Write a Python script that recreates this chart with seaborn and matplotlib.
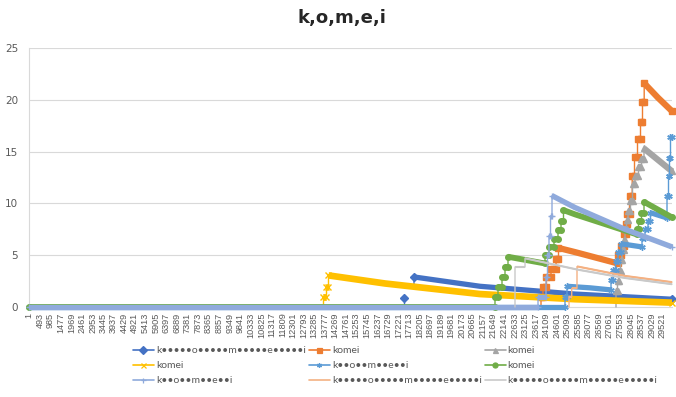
import numpy as np
import pandas as pd
import seaborn as sns
import matplotlib.pyplot as plt
from matplotlib.lines import Line2D

# ---------------------------------------------------------------- data
N_CATEGORIES = 29978
TICK_FIRST, TICK_LAST, TICK_STEP = 1, 29521, 492
Y_TICKS = [0, 5, 10, 15, 20, 25]
TITLE = "k,o,m,e,i"

LONG_NAME = "k•••••o•••••m•••••e•••••i"
SHORT_NAME = "k••o••m••e••i"
series_names = [LONG_NAME, "komei", "komei", "komei", SHORT_NAME,
                "komei", SHORT_NAME, LONG_NAME, LONG_NAME]

# Each series is a path of (category, value) vertices.  Equal categories on
# consecutive vertices are jumps; NaN values break the line.
s1_x = [17478, 17478, 17478, 17944, 17944, 21023, 25454, 29978]
s1_y = [0, 0.9, np.nan, 1.9, 2.9, 2.0, 1.25, 0.75]

s2_x = [23868, 23868, 23961, 23961, 24124, 24124, 24334, 24334, 24567,
        24567, 24684, 24684, 25454, 27459, 27459, 27599, 27599, 27739, 27739,
        27832, 27832, 27902, 27902, 27996, 27996, 28122, 28122, 28229, 28229,
        28369, 28369, 28509, 28509, 28602, 28602, 28681, 28681, 29325, 29978]
s2_y = [0, 1.0, 1.0, 1.95, 1.95, 2.85, 2.85, 3.7, 3.7,
        4.66, 4.66, 5.7, 5.3, 4.2, 5.05, 5.05, 5.9, 5.9, 7.0,
        7.0, 8.0, 8.0, 9.0, 9.0, 10.7, 10.7, 12.6, 12.6, 14.5,
        14.5, 16.2, 16.2, 17.9, 17.9, 19.8, 19.8, 21.6, 20.2, 18.9]

s3_x = [27366, 27366, 27436, 27436, 27506, 27506, 27576, 27576, 27646, 27646,
        27716, 27716, 27786, 27786, 27856, 27856, 27926, 27926, 28042, 28042,
        28136, 28136, 28252, 28252, 28415, 28415, 28555, 28555, 28672, 28672,
        29325, 29978]
s3_y = [0, 1.5, 1.5, 2.5, 2.5, 3.5, 3.5, 4.5, 4.5, 5.5,
        5.5, 6.5, 6.5, 7.5, 7.5, 8.4, 8.4, 9.3, 9.3, 10.25,
        10.25, 11.85, 11.85, 12.6, 12.6, 13.5, 13.5, 14.3, 14.3, 15.3,
        14.2, 13.1]

s4_x = [13723, 13723, 13863, 13863, 13956, 13956, 16592, 21023, 25454, 29978]
s4_y = [0, 0.95, 0.95, 1.95, 1.95, 3.05, 2.27, 1.25, 0.75, 0.42]

s5_x = [1, 24987, 24987, 25080, 25080, 26153, 27133, 27133, 27226, 27226,
        27343, 27343, 27459, 27459, 27599, 27599, 28579, 28579, 28719, 28719,
        28859, 28859, 28975, 28975, 29745, 29745, 29815, 29815, 29861, 29861,
        29908, 29908, 29978]
s5_y = [0, 0, 1.0, 1.0, 2.0, 1.85, 1.65, 2.6, 2.6, 3.55,
        3.55, 4.4, 4.4, 5.3, 5.3, 6.1, 5.8, 6.7, 6.7, 7.5,
        7.5, 8.3, 8.3, 9.1, 8.6, 10.7, 10.7, 12.6, 12.6, 14.4,
        14.4, 16.4, 16.4]

s6_x = [1, 21722, 21722, 21862, 21862, 22049, 22049, 22189, 22189, 22329,
        22329, 24054, 24054, 24241, 24241, 24474, 24474, 24661, 24661, 24801,
        24801, 24917, 24917, 25454, 28346, 28346, 28416, 28416, 28555, 28555,
        28672, 28672, 29325, 29978]
s6_y = [0, 0, 1.0, 1.0, 1.95, 1.95, 2.9, 2.9, 3.86, 3.86,
        4.85, 4.2, 5.0, 5.0, 5.8, 5.8, 6.6, 6.6, 7.4, 7.4,
        8.3, 8.3, 9.35, 8.94, 7.0, 7.5, 7.5, 8.3, 8.3, 9.1,
        9.1, 10.15, 9.4, 8.65]

s7_x = [1, 23728, 23728, 24101, 24101, 24171, 24171, 24241, 24241, 24311,
        24311, 24381, 24381, 25454, 27786, 29978]
s7_y = [0, 0, 1.0, 1.0, 2.9, 2.9, 5.0, 5.0, 6.9, 6.9,
        8.8, 8.8, 10.75, 9.6, 7.5, 5.8]

s8_x = [25174, 25174, 25300, 25300, 25547, 25547, 25594, 27786, 29978]
s8_y = [0, 1.0, 1.0, 1.8, 1.8, 3.9, 3.9, 3.0, 2.4]

s9_x = [22655, 22655, 23122, 23122, 25594, 27786, 29978]
s9_y = [0, 3.86, 3.86, 4.7, 3.6, 2.8, 2.2]

series_x = [s1_x, s2_x, s3_x, s4_x, s5_x, s6_x, s7_x, s8_x, s9_x]
series_y = [s1_y, s2_y, s3_y, s4_y, s5_y, s6_y, s7_y, s8_y, s9_y]

# ---------------------------------------------------------------- style
colors = ["#4472C4", "#ED7D31", "#A5A5A5", "#FFC000", "#5B9BD5",
          "#70AD47", "#8FAADC", "#F4B183", "#C9C9C9"]
markers = ["D", "s", "^", "x", (6, 2, 0), "o", "+", None, None]
marker_sizes = [3.9, 3.8, 4.4, 3.8, 4.6, 4.0, 4.6, 0, 0]
band_widths = [3.8, 4.5, 4.5, 4.8, 3.8, 4.2, 3.9, 1.5, 1.5]
THIN = 1.0
GRID = "#D9D9D9"
TEXT = "#595959"

sns.set_theme(style="white")
plt.rcParams["font.family"] = ["Liberation Sans Narrow", "DejaVu Sans"]

W, H = 676, 397
fig = plt.figure(figsize=(W / 100, H / 100), dpi=100)
ax = fig.add_axes([29.3 / W, (H - 307) / H, (672 - 29.3) / W, (307 - 48) / H])


def split_pieces(xs, ys):
    pieces, cur = [], []
    for x, y in zip(xs, ys):
        if np.isnan(y):
            if cur:
                pieces.append(cur)
            cur = []
        else:
            cur.append((x, y))
    if cur:
        pieces.append(cur)
    return pieces


for i in range(9):
    z = 3 + i
    col = colors[i]
    for piece in split_pieces(series_x[i], series_y[i]):
        px = [p[0] for p in piece]
        py = [p[1] for p in piece]
        n = len(piece)
        df = pd.DataFrame({"cat": px, "val": py})
        # connecting line through every vertex
        sns.lineplot(data=df, x="cat", y="val", sort=False, estimator=None,
                     color=col, lw=THIN, ax=ax, zorder=z)
        # runs of consecutive categories are packed with markers -> bands
        groups, cur = [], []
        for k in range(n - 1):
            if px[k + 1] > px[k]:
                if not cur:
                    cur = [k]
                cur.append(k + 1)
            else:
                if cur:
                    groups.append(cur)
                cur = []
        if cur:
            groups.append(cur)
        mk_idx = set()
        for g in groups:
            gdf = df.iloc[g]
            sns.lineplot(data=gdf, x="cat", y="val", sort=False,
                         estimator=None, color=col, lw=band_widths[i],
                         ax=ax, zorder=z, solid_capstyle="butt")
            mk_idx.update([g[0], g[-1]])
        for k in range(1, n):
            prev_jump = px[k - 1] == px[k]
            next_jump = (k == n - 1) or (px[k + 1] == px[k])
            if prev_jump and next_jump:
                mk_idx.add(k)
        if markers[i] is not None and mk_idx:
            ks = sorted(mk_idx)
            ax.plot([px[k] for k in ks], [py[k] for k in ks], ls="none",
                    marker=markers[i], ms=marker_sizes[i], color=col,
                    mec=col, mew=1.0, zorder=z)

for ln in ax.lines:
    ln.set_clip_on(False)

# ---------------------------------------------------------------- axes
ax.set_xlim(1, N_CATEGORIES)
ax.set_ylim(0, 25)
ax.set_yticks(Y_TICKS)
ax.set_yticklabels([str(v) for v in Y_TICKS], fontsize=7.5, color=TEXT,
                   family=["Liberation Sans Narrow", "DejaVu Sans"])
xt = list(range(TICK_FIRST, TICK_LAST + 1, TICK_STEP))
ax.set_xticks(xt)
ax.set_xticklabels([str(v) for v in xt], rotation=90, fontsize=6.6,
                   color=TEXT, family=["Liberation Sans", "DejaVu Sans"])
ax.tick_params(axis="both", length=0)
ax.tick_params(axis="y", pad=8)
ax.tick_params(axis="x", pad=4)
ax.set_xlabel("")
ax.set_ylabel("")
for y in Y_TICKS[1:]:
    ax.axhline(y, color=GRID, lw=0.8, zorder=1)
for side in ["top", "right"]:
    ax.spines[side].set_visible(False)
ax.spines["left"].set_color(GRID)
ax.spines["left"].set_linewidth(0.8)
ax.spines["bottom"].set_color(GRID)
ax.spines["bottom"].set_linewidth(0.8)
ax.grid(False)

fig.text(342 / W, 1 - 18 / H, TITLE, ha="center", va="center",
         fontsize=13, fontweight="bold", color="#262626",
         family=["Liberation Sans Narrow", "DejaVu Sans"])

# ---------------------------------------------------------------- legend
handles = []
for i in range(9):
    handles.append(Line2D([], [], color=colors[i], lw=1.2,
                          marker=markers[i] if markers[i] is not None else None,
                          ms=3.6, mew=0.9))
order = [0, 3, 6, 1, 4, 7, 2, 5, 8]
leg = fig.legend([handles[k] for k in order], [series_names[k] for k in order],
                 ncol=3, loc="upper left", bbox_to_anchor=(133 / W, 1 - 346 / H),
                 frameon=False, handlelength=2.0,
                 handletextpad=0.2, columnspacing=0.3, labelspacing=0.55,
                 borderpad=0, borderaxespad=0,
                 prop={"family": ["Lato", "DejaVu Sans"], "size": 7.5})
for t in leg.get_texts():
    t.set_color(TEXT)

fig.savefig("out.png", dpi=100)
